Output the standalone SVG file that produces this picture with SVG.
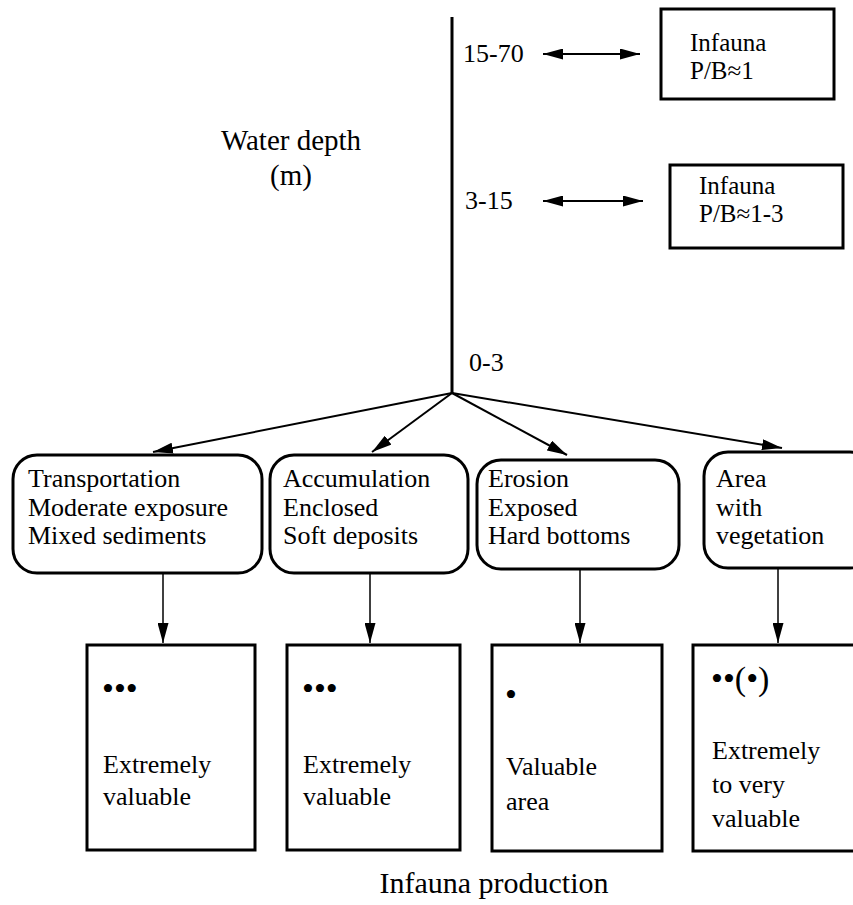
<svg xmlns="http://www.w3.org/2000/svg" width="853" height="905" viewBox="0 0 853 905">
<style>
text{fill:#000;font-size:26px}
.big{font-size:29px}
.title{font-size:30px}
.dots{font-size:34px}
.pb{font-size:25px}
.box{fill:#fff;stroke:#000;stroke-width:3}
.conn{stroke:#000;fill:none}
</style>
<defs>
<marker id="ah" markerUnits="userSpaceOnUse" markerWidth="20" markerHeight="11" refX="20" refY="5.5" orient="auto-start-reverse" viewBox="0 0 20 11">
<path d="M0,0 L20,5.5 L0,11 z" fill="#000"/>
</marker>
</defs>
<rect width="853" height="905" fill="#fff"/>
<g font-family="Liberation Serif, Times New Roman, serif">
<g id="axis">
<line class="conn" x1="452" y1="17" x2="452" y2="394" stroke-width="3"/>
<text class="big" x="291" y="150" text-anchor="middle">Water depth</text>
<text class="big" x="291" y="185" text-anchor="middle">(m)</text>
<text x="463" y="62">15-70</text>
<text x="465" y="209">3-15</text>
<text x="469" y="371">0-3</text>
</g>
<g id="connectors">
<line class="conn" x1="543" y1="54" x2="640" y2="54" stroke-width="2" marker-start="url(#ah)" marker-end="url(#ah)"/>
<line class="conn" x1="543" y1="201" x2="643" y2="201" stroke-width="2" marker-start="url(#ah)" marker-end="url(#ah)"/>
<line class="conn" x1="452" y1="393" x2="153" y2="452" stroke-width="2" marker-end="url(#ah)"/>
<line class="conn" x1="452" y1="393" x2="372" y2="452" stroke-width="2" marker-end="url(#ah)"/>
<line class="conn" x1="452" y1="393" x2="567" y2="455" stroke-width="2" marker-end="url(#ah)"/>
<line class="conn" x1="452" y1="393" x2="782" y2="448" stroke-width="2" marker-end="url(#ah)"/>
<line class="conn" x1="163" y1="573" x2="163" y2="643" stroke-width="1.5" marker-end="url(#ah)"/>
<line class="conn" x1="370" y1="573" x2="370" y2="643" stroke-width="1.5" marker-end="url(#ah)"/>
<line class="conn" x1="580" y1="569" x2="580" y2="643" stroke-width="1.5" marker-end="url(#ah)"/>
<line class="conn" x1="778" y1="568" x2="778" y2="643" stroke-width="1.5" marker-end="url(#ah)"/>
</g>
<g id="pb1">
<rect class="box" x="661" y="9" width="173" height="90"/>
<text class="pb" x="690" y="51">Infauna</text>
<text class="pb" x="690" y="79">P/B≈1</text>
</g>
<g id="pb2">
<rect class="box" x="670" y="165" width="173" height="83"/>
<text class="pb" x="699" y="194">Infauna</text>
<text class="pb" x="699" y="222">P/B≈1-3</text>
</g>
<g id="transport">
<rect class="box" x="13" y="455" width="249" height="118" rx="24"/>
<text x="28" y="487">Transportation</text>
<text x="28" y="516">Moderate exposure</text>
<text x="28" y="544">Mixed sediments</text>
</g>
<g id="accum">
<rect class="box" x="270" y="455" width="198" height="118" rx="24"/>
<text x="283" y="487">Accumulation</text>
<text x="283" y="516">Enclosed</text>
<text x="283" y="544">Soft deposits</text>
</g>
<g id="erosion">
<rect class="box" x="477" y="460" width="202" height="109" rx="24"/>
<text x="488" y="487">Erosion</text>
<text x="488" y="516">Exposed</text>
<text x="488" y="544">Hard bottoms</text>
</g>
<g id="vegetation">
<rect class="box" x="704" y="452" width="170" height="116" rx="24"/>
<text x="716" y="487">Area</text>
<text x="716" y="516">with</text>
<text x="716" y="544">vegetation</text>
</g>
<g id="val1">
<rect class="box" x="87" y="645" width="168" height="205"/>
<text class="dots" x="102" y="700">•••</text>
<text x="103" y="773">Extremely</text>
<text x="103" y="805">valuable</text>
</g>
<g id="val2">
<rect class="box" x="287" y="645" width="173" height="205"/>
<text class="dots" x="302" y="700">•••</text>
<text x="303" y="773">Extremely</text>
<text x="303" y="805">valuable</text>
</g>
<g id="val3">
<rect class="box" x="492" y="645" width="170" height="206"/>
<text class="dots" x="505" y="706">•</text>
<text x="506" y="775">Valuable</text>
<text x="506" y="810">area</text>
</g>
<g id="val4">
<rect class="box" x="693" y="645" width="175" height="206"/>
<text class="dots" x="711" y="690">••(•)</text>
<text x="712" y="759">Extremely</text>
<text x="712" y="793">to very</text>
<text x="712" y="827">valuable</text>
</g>
<g id="caption">
<text class="title" x="494" y="893" text-anchor="middle">Infauna production</text>
</g>
</g>
</svg>
